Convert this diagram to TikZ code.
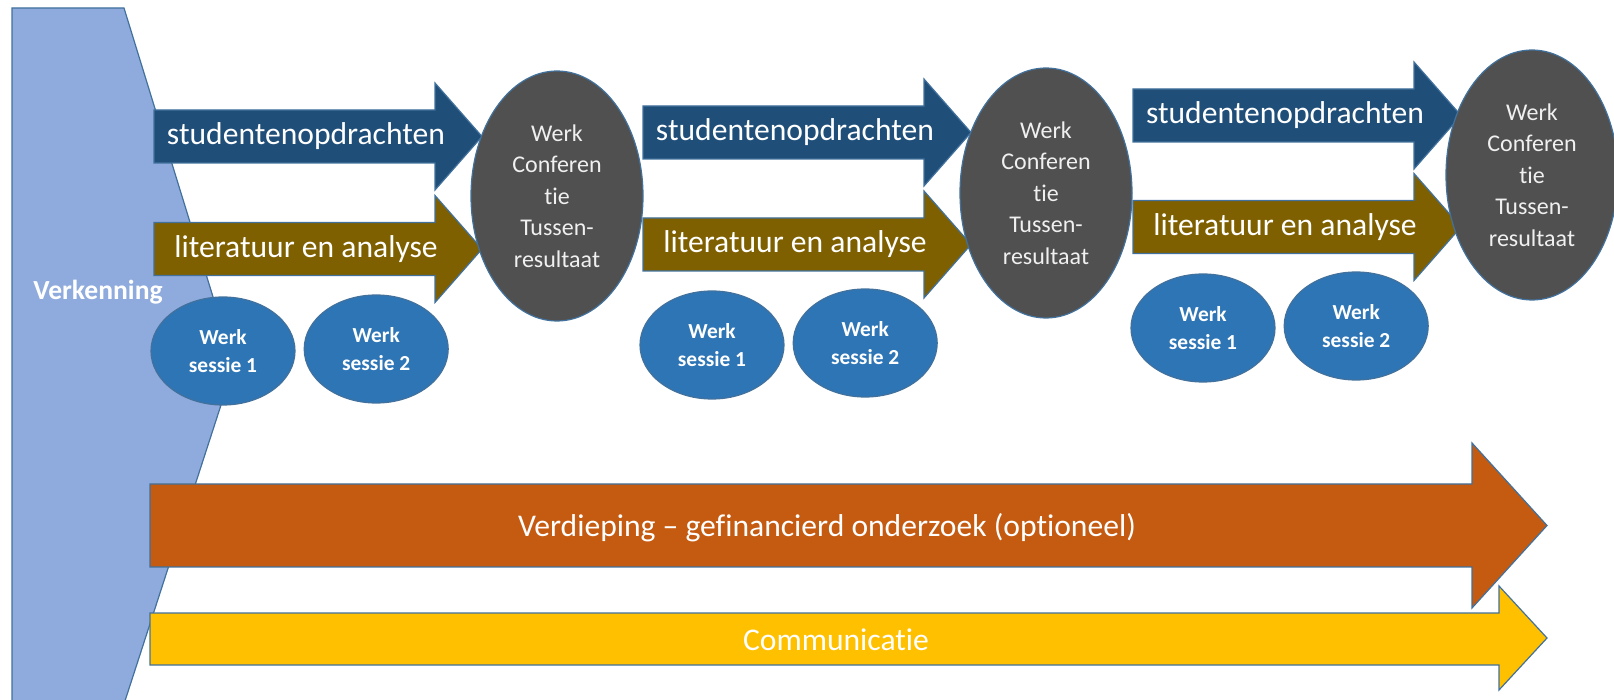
\documentclass[tikz,border=0pt]{standalone}
\usepackage{fontspec}
\setmainfont{Carlito}[Ligatures={TeX,NoCommon,NoRare}]
\usepackage{tikz}
\usetikzlibrary{shapes.geometric,positioning}

\definecolor{verkblue}{HTML}{8FAADC}
\definecolor{edgeblue}{HTML}{41719C}
\definecolor{taakblue}{HTML}{1F4E79}
\definecolor{litolive}{HTML}{7F6000}
\definecolor{confgray}{HTML}{505050}
\definecolor{sessblue}{HTML}{2E75B6}
\definecolor{verdorange}{HTML}{C55A11}
\definecolor{commyellow}{HTML}{FFC000}

\begin{document}
\begin{tikzpicture}[
		x=0.5pt, y=-0.5pt,
		node distance=4pt,
		shapeline/.style={draw=edgeblue, line width=0.6pt},
		conf/.style={
			ellipse,
			shapeline,
			fill=confgray,
			minimum width=86pt,
			minimum height=125pt,
			inner sep=0pt,
			align=center,
			text=white!94!black,
			font=\fontsize{12}{15.8}\selectfont
		},
		sessie/.style={
			ellipse,
			shapeline,
			fill=sessblue,
			minimum width=72pt,
			minimum height=54pt,
			inner sep=0pt,
			align=center,
			text=white,
			font=\bfseries\fontsize{10.7}{14}\selectfont
		},
		bartext/.style={text=white, inner sep=0pt, font=\fontsize{15.8}{18}\selectfont}
		]
		\useasboundingbox (0,0) rectangle (1614,700);
		
		% Verkenning (background block)
		\draw[shapeline, fill=verkblue] (12,8) -- (124,8) -- (234,365) -- (124,704) -- (12,704) -- cycle;
		\node[text=white, font=\bfseries\fontsize{13.8}{16}\selectfont] (VK) at (98,292) {Verkenning};
		
		% Arrows per round
		\foreach \g/\x/\ya/\yb in {1/154/136.5/249, 2/643/132.5/244.5, 3/1133/115.5/227} {
			\draw[shapeline, fill=taakblue] (\x,\ya) ++(0,-26.5) -- ++(281,0) -- ++(0,-27) -- ++(47,53.5) -- ++(-47,53.5) -- ++(0,-27) -- ++(-281,0) -- cycle;
			\node[bartext] (SO\g) at (\x+152,\ya) {studentenopdrachten};
			\draw[shapeline, fill=litolive] (\x,\yb) ++(0,-26.5) -- ++(281,0) -- ++(0,-27) -- ++(47,53.5) -- ++(-47,53.5) -- ++(0,-27) -- ++(-281,0) -- cycle;
			\node[bartext] (LA\g) at (\x+152,\yb) {literatuur en analyse};
		}
		
		% Werkconferenties
		\node[conf] (WC1) at (557,196) {Werk\\Conferen\\tie\\Tussen-\\resultaat};
		\node[conf] (WC2) at (1046,193) {Werk\\Conferen\\tie\\Tussen-\\resultaat};
		\node[conf] (WC3) at (1532,175) {Werk\\Conferen\\tie\\Tussen-\\resultaat};
		
		% Werksessies
		\node[sessie] (WS11) at (223,351) {Werk\\sessie 1};
		\node[sessie, right=of WS11, yshift=1pt] (WS12) {Werk\\sessie 2};
		\node[sessie] (WS21) at (712,345) {Werk\\sessie 1};
		\node[sessie, right=of WS21, yshift=1pt] (WS22) {Werk\\sessie 2};
		\node[sessie] (WS31) at (1203,328) {Werk\\sessie 1};
		\node[sessie, right=of WS31, yshift=1pt] (WS32) {Werk\\sessie 2};
		
		% Verdieping and Communicatie
		\draw[shapeline, fill=verdorange] (150,484) -- (1472,484) -- (1472,443) -- (1547,525.5) -- (1472,608) -- (1472,567) -- (150,567) -- cycle;
		\node[bartext] (VD) at (827,528) {Verdieping -- gefinancierd onderzoek (optioneel)};
		\draw[shapeline, fill=commyellow] (150,613) -- (1499,613) -- (1499,586) -- (1547,638) -- (1499,690) -- (1499,665) -- (150,665) -- cycle;
		\node[bartext] (CM) at (836,640) {Communicatie};
	\end{tikzpicture}
\end{document}
